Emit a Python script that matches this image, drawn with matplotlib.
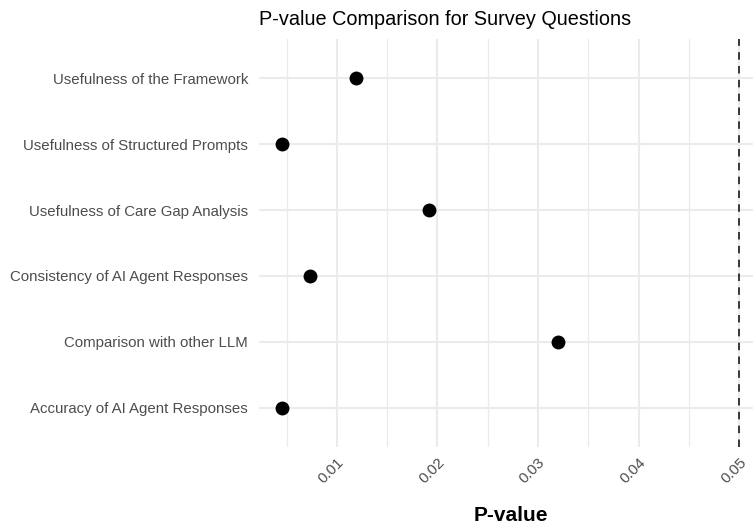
import matplotlib
matplotlib.use("Agg")
import matplotlib.pyplot as plt
import numpy as np

# Survey questions (top to bottom as shown) and their p-values
questions = [
    "Usefulness of the Framework",
    "Usefulness of Structured Prompts",
    "Usefulness of Care Gap Analysis",
    "Consistency of AI Agent Responses",
    "Comparison with other LLM",
    "Accuracy of AI Agent Responses",
]
p_values = [0.0119, 0.00453, 0.0192, 0.00735, 0.0320, 0.00453]
threshold = 0.05
x_ticks = [0.01, 0.02, 0.03, 0.04, 0.05]
x_minor = [0.005, 0.015, 0.025, 0.035, 0.045]

plt.rcParams['font.family'] = ['Liberation Sans', 'DejaVu Sans']

fig = plt.figure(figsize=(7.53, 5.29), dpi=100)
ax = fig.add_axes([259 / 753, 1 - 447 / 529, (762 - 259) / 753, (447 - 39) / 529])

# bottom-up positions like ggplot's discrete scale
ypos = np.arange(len(questions))[::-1] + 1

ax.scatter(p_values, ypos, s=100, color='black', zorder=3, linewidths=0)
ax.axvline(threshold, color='#1a1a1a', linewidth=1.2, linestyle=(0, (4.5, 3.8)), zorder=2)

lo = min(p_values)
span = threshold - lo
ax.set_xlim(lo - 0.05 * span, threshold + 0.05 * span)
ax.set_ylim(0.4, len(questions) + 0.6)

ax.set_xticks(x_ticks)
ax.set_xticks(x_minor, minor=True)
ax.set_xticklabels([f"{t:.2f}" for t in x_ticks], rotation=45, ha='right',
                   rotation_mode='anchor', color='#4D4D4D', fontsize=11)
ax.set_yticks(ypos)
ax.set_yticklabels(questions, color='#4D4D4D', fontsize=10.8)

ax.grid(True, which='major', color='#EBEBEB', linewidth=1.5, zorder=0)
ax.grid(True, which='minor', axis='x', color='#EBEBEB', linewidth=0.9, zorder=0)
ax.set_axisbelow(True)
for s in ax.spines.values():
    s.set_visible(False)
ax.tick_params(axis='both', which='both', length=0)
ax.tick_params(axis='y', pad=8)
ax.tick_params(axis='x', pad=6)

ax.set_xlabel("P-value", fontsize=15, fontweight='bold', labelpad=14)
ax.set_title("P-value Comparison for Survey Questions", fontsize=14.3, loc='left', pad=10)

fig.savefig("out.png", dpi=100)
